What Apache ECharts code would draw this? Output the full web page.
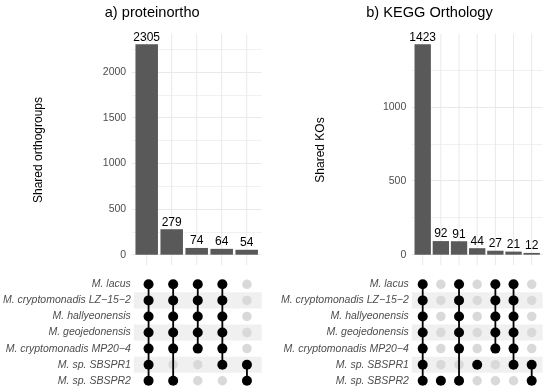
<!DOCTYPE html>
<html><head><meta charset="utf-8">
<script src="https://cdn.jsdelivr.net/npm/echarts@6/dist/echarts.min.js"></script>
<style>html,body{margin:0;padding:0;background:#fff}#c{width:550px;height:392px}</style>
</head><body><div id="c"></div>
<script>
// ---------- data ----------
const species = ['M. lacus', 'M. cryptomonadis LZ\u221215\u22122', 'M. hallyeonensis', 'M. geojedonensis',
  'M. cryptomonadis MP20\u22124', 'M. sp. SBSPR1', 'M. sp. SBSPR2'];
const titleA = 'a) proteinortho';
const titleB = 'b) KEGG Orthology';
const yTitleA = 'Shared orthogroups';
const yTitleB = 'Shared KOs';
const countsA = [2305, 279, 74, 64, 54];
const countsB = [1423, 92, 91, 44, 27, 21, 12];
// membership per intersection column, one flag per species (top to bottom)
const membersA = [
  [1, 1, 1, 1, 1, 1, 1],
  [1, 1, 1, 1, 1, 0, 1],
  [1, 1, 1, 1, 1, 0, 0],
  [1, 1, 1, 1, 1, 1, 0],
  [0, 0, 0, 0, 0, 1, 1]
];
const membersB = [
  [1, 1, 1, 1, 1, 1, 1],
  [0, 0, 0, 0, 0, 0, 1],
  [1, 1, 1, 1, 1, 0, 1],
  [0, 0, 0, 0, 0, 1, 0],
  [1, 1, 1, 1, 1, 0, 0],
  [1, 1, 1, 1, 1, 1, 0],
  [0, 0, 0, 0, 0, 1, 1]
];
const yTicksA = [0, 500, 1000, 1500, 2000];
const yTicksB = [0, 500, 1000];
const stripeRows = [1, 3, 5];

// ---------- layout / style ----------
const FONT = 'Liberation Sans';
const panels = [
  {counts: countsA, members: membersA, ticks: yTicksA, left: 131.7, width: 130.0},
  {counts: countsB, members: membersB, ticks: yTicksB, left: 411.8, width: 130.8}
];
const barTop = 33.7, barHeight = 221;
const matTop = 276.3, matHeight = 112.5;

const chart = echarts.init(document.getElementById('c'), null, {renderer: 'canvas'});
const grid = [], xAxis = [], yAxis = [], series = [];

panels.forEach((p, k) => {
  const n = p.counts.length;
  const maxV = Math.max(...p.counts);
  const yMax = maxV * 1.05;
  const unit = p.width / (n + 0.2);
  const gBar = k * 2, gMat = k * 2 + 1;
  grid.push({left: p.left, width: p.width, top: barTop, height: barHeight});
  grid.push({left: p.left, width: p.width, top: matTop, height: matHeight});
  xAxis.push({type: 'value', gridIndex: gBar, min: 0.4, max: n + 0.6, show: false});
  xAxis.push({type: 'value', gridIndex: gMat, min: 0.4, max: n + 0.6, show: false});
  yAxis.push({
    type: 'value', gridIndex: gBar, min: 0, max: yMax, interval: 250,
    axisLine: {show: false}, axisTick: {show: false},
    axisLabel: {
      margin: 5.5, color: '#4d4d4d', fontSize: 10.5, fontFamily: FONT,
      formatter: v => (p.ticks.indexOf(v) >= 0 ? String(v) : ''),
      showMinLabel: true, showMaxLabel: false
    },
    splitLine: {show: true, showMaxLine: false, lineStyle: {color: ['#e9e9e9', '#f1f1f1'], width: 1}}
  });
  yAxis.push({
    type: 'category', gridIndex: gMat, data: species, inverse: true,
    axisLine: {show: false}, axisTick: {show: false}, splitLine: {show: false},
    axisLabel: {margin: 3, color: '#4d4d4d', fontSize: 10.5, fontFamily: FONT, fontStyle: 'italic'}
  });
  const xi = k * 2, yi = k * 2;
  // vertical grid lines
  series.push({
    type: 'custom', xAxisIndex: xi, yAxisIndex: yi, z: 1, silent: true, clip: false,
    data: p.counts.map((c, i) => [i + 1, c]),
    renderItem: (params, api) => {
      const x = api.value(0);
      const a = api.coord([x, -0.05 * maxV]);
      const b = api.coord([x, yMax]);
      return {type: 'line', shape: {x1: a[0], y1: a[1], x2: b[0], y2: b[1]},
        style: {stroke: '#e9e9e9', lineWidth: 1}};
    }
  });
  // bars
  series.push({
    type: 'bar', xAxisIndex: xi, yAxisIndex: yi, z: 3,
    barWidth: unit * 0.9,
    itemStyle: {color: '#595959'},
    data: p.counts.map((c, i) => [i + 1, c]),
    label: {show: true, position: 'top', distance: 1, color: '#000', fontSize: 12, fontFamily: FONT}
  });
  // stripes
  series.push({
    type: 'custom', xAxisIndex: xi + 1, yAxisIndex: yi + 1, z: 1, silent: true,
    data: stripeRows.map(r => [1, r]),
    encode: {x: 0, y: 1},
    renderItem: (params, api) => {
      const r = api.value(1);
      const a = api.coord([0.4, r]);
      const b = api.coord([n + 0.6, r]);
      const h = api.size([0, 1])[1];
      return {type: 'rect', shape: {x: a[0], y: a[1] - h / 2, width: b[0] - a[0], height: h},
        style: {fill: '#f0f0f0'}};
    }
  });
  // connecting lines
  const segs = [];
  p.members.forEach((m, c) => {
    const act = m.map((v, r) => v ? r : -1).filter(r => r >= 0);
    if (act.length > 1) segs.push([c + 1, Math.min(...act), Math.max(...act)]);
  });
  series.push({
    type: 'custom', xAxisIndex: xi + 1, yAxisIndex: yi + 1, z: 3, silent: true,
    data: segs, encode: {x: 0, y: [1, 2]},
    renderItem: (params, api) => {
      const a = api.coord([api.value(0), api.value(1)]);
      const b = api.coord([api.value(0), api.value(2)]);
      return {type: 'line', shape: {x1: a[0], y1: a[1], x2: b[0], y2: b[1]},
        style: {stroke: '#000', lineWidth: 1.8}};
    }
  });
  const on = [], off = [];
  p.members.forEach((m, c) => m.forEach((v, r) => (v ? on : off).push([c + 1, r])));
  series.push({type: 'scatter', xAxisIndex: xi + 1, yAxisIndex: yi + 1, z: 2, silent: true,
    symbolSize: 9.5, itemStyle: {color: '#d9d9d9', opacity: 1}, data: off});
  series.push({type: 'scatter', xAxisIndex: xi + 1, yAxisIndex: yi + 1, z: 4, silent: true,
    symbolSize: 10, itemStyle: {color: '#000', opacity: 1}, data: on});
});

const txt = (text, x, y, size, rot) => ({
  type: 'text', x: x, y: y, rotation: rot || 0, silent: true,
  style: {text: text, fill: '#000', fontSize: size, fontFamily: FONT, textAlign: 'center', textVerticalAlign: 'middle'}
});

chart.setOption({
  backgroundColor: '#fff',
  animation: false,
  grid: grid, xAxis: xAxis, yAxis: yAxis, series: series,
  graphic: [
    txt(titleA, 152.2, 12.5, 14.6),
    txt(titleB, 429.5, 12.5, 14.6),
    txt(yTitleA, 39, 150, 12, Math.PI / 2),
    txt(yTitleB, 320.5, 150, 12, Math.PI / 2)
  ]
});
</script></body></html>
